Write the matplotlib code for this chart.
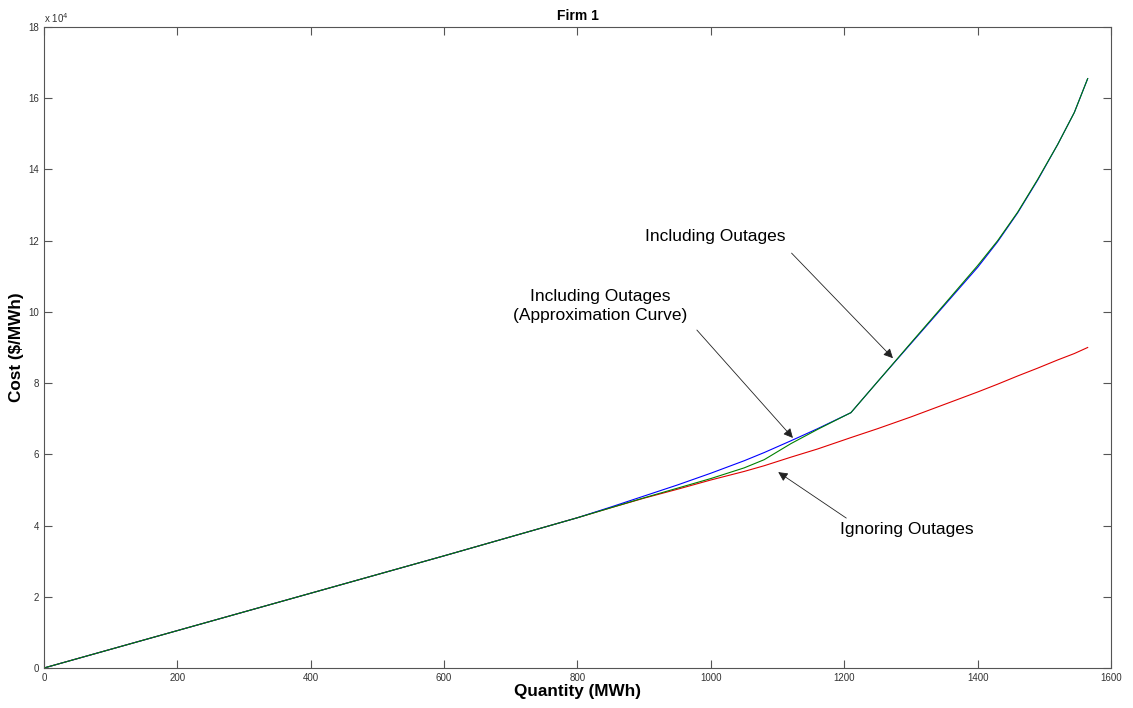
import matplotlib.pyplot as plt
import numpy as np

plt.rcParams['font.family'] = ['Liberation Sans', 'DejaVu Sans']

# quantities (MWh) and costs (x 10^4 $/MWh)
quantity = [0, 200, 400, 600, 800, 850, 900, 950, 1000, 1050, 1080, 1120, 1160,
            1210, 1250, 1300, 1350, 1400, 1430, 1460, 1490, 1520, 1545, 1565]
ignoring = [0, 1.05, 2.1, 3.15, 4.22, 4.5, 4.77, 5.02, 5.28, 5.52, 5.68, 5.92, 6.15,
            6.47, 6.72, 7.05, 7.4, 7.75, 7.97, 8.2, 8.42, 8.65, 8.83, 9.0]
including = [0, 1.05, 2.1, 3.15, 4.22, 4.5, 4.78, 5.05, 5.32, 5.62, 5.85, 6.3, 6.7,
             7.17, 8.04, 9.13, 10.21, 11.3, 12.0, 12.8, 13.72, 14.7, 15.6, 16.55]
approx = [0, 1.05, 2.1, 3.15, 4.22, 4.52, 4.83, 5.14, 5.47, 5.82, 6.05, 6.38, 6.72,
          7.17, 8.04, 9.11, 10.18, 11.25, 11.97, 12.78, 13.7, 14.7, 15.6, 16.55]

xticks = np.arange(0, 1601, 200)
yticks = np.arange(0, 19, 2)

fig = plt.figure(figsize=(11.33, 7.08), dpi=100)
ax = fig.add_axes([0.0388, 0.0565, 0.9418, 0.9054])

ax.plot(quantity, ignoring, color='#e00000', lw=0.8)
ax.plot(quantity, approx, color='#0000ff', lw=0.8)
ax.plot(quantity, including, color='#008000', lw=0.8)

ax.set_xlim(0, 1600)
ax.set_ylim(0, 18)
ax.set_xticks(xticks)
ax.set_yticks(yticks)
ax.tick_params(direction='in', top=True, right=True, labelsize=7,
               length=6, color='#555555', labelcolor='#333333')
for s in ax.spines.values():
    s.set_color('#555555')
    s.set_linewidth(0.8)

ax.text(0.0, 1.003, r'x 10$^4$', transform=ax.transAxes, fontsize=7,
        color='#333333', ha='left', va='bottom')

ax.set_title('Firm 1', fontsize=10, fontweight='bold', pad=5)
ax.set_xlabel('Quantity (MWh)', fontsize=12.3, fontweight='bold', labelpad=1)
ax.set_ylabel('Cost ($/MWh)', fontsize=12.3, fontweight='bold', labelpad=3)

arrow = dict(arrowstyle='-|>', color='#222222', lw=0.6, mutation_scale=14,
             shrinkA=0, shrinkB=0)
ax.annotate('', xy=(1273, 8.7), xytext=(1121, 11.65), arrowprops=arrow)
ax.text(1007, 12.13, 'Including Outages', fontsize=12.5, ha='center', va='center')

ax.annotate('', xy=(1123, 6.46), xytext=(979, 9.49), arrowprops=arrow)
ax.text(834, 10.17, 'Including Outages\n(Approximation Curve)', fontsize=12.5,
        ha='center', va='center', linespacing=1.35)

ax.annotate('', xy=(1101, 5.5), xytext=(1203, 4.21), arrowprops=arrow)
ax.text(1294, 3.9, 'Ignoring Outages', fontsize=12.5, ha='center', va='center')

fig.savefig('out.png', dpi=100)
